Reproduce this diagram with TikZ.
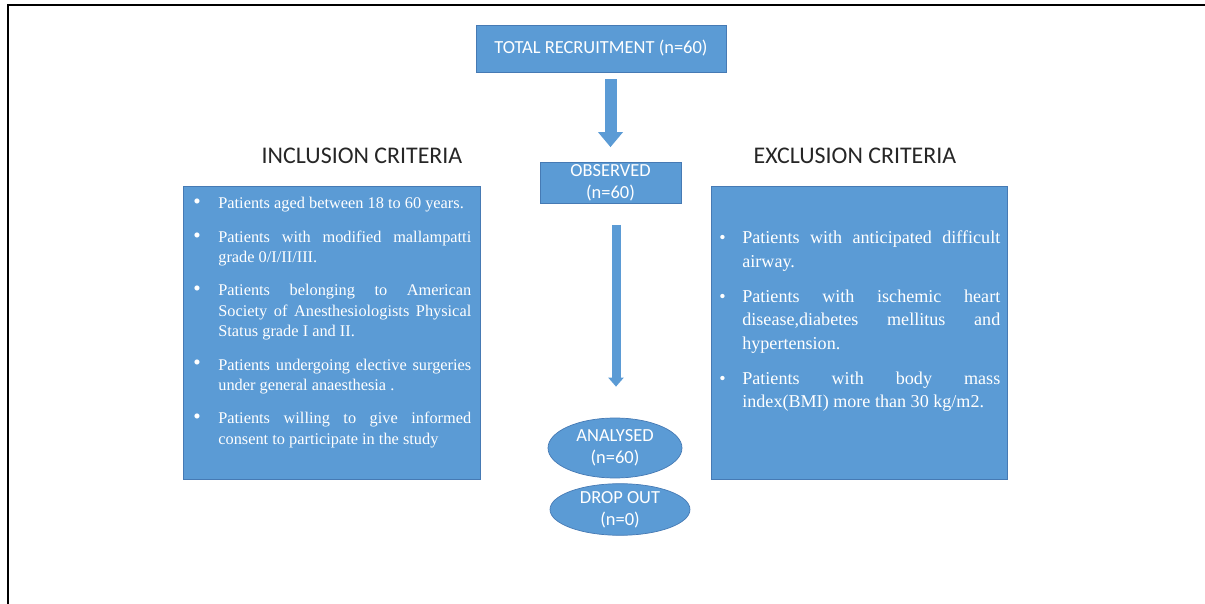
\documentclass[tikz,border=0pt]{standalone}
\usepackage{fontspec}
\setmainfont{Liberation Serif}
\newfontfamily\calib{Carlito}
\usetikzlibrary{shapes.geometric,arrows.meta,calc}

\definecolor{boxblue}{RGB}{91,155,213}
\definecolor{boxedge}{RGB}{70,122,180}

\newlength\critind
\newlength\critgap
\newcommand{\critbul}{\textbullet}
\newcommand{\critem}[1]{\par\hangindent=\critind\hangafter=1\noindent
  \hbox to\critind{\hskip0.06cm\critbul\hss}#1\par\vspace{\critgap}}

\tikzset{
  bluebox/.style={rectangle, fill=boxblue, draw=boxedge, line width=0.4pt,
    text=white, align=center, inner sep=0pt,
    font=\calib\fontsize{10.5}{12.5}\selectfont},
  blueoval/.style={bluebox, ellipse},
  critbox/.style={rectangle, fill=boxblue, draw=boxedge, line width=0.4pt},
  crittext/.style={anchor=north west, inner sep=0pt, text=white, align=justify},
  crithead/.style={text=black!85, font=\calib\fontsize{13.6}{16}\selectfont},
  bigarrow/.style={boxblue, line width=0.24cm, -{Triangle[width=0.48cm, length=0.3cm]}},
  thinarrow/.style={boxblue, line width=0.18cm, -{Triangle[width=0.3cm, length=0.18cm]}}
}

\begin{document}
\begin{tikzpicture}[x=0.02cm, y=-0.02cm]
\useasboundingbox (0,0) rectangle (1205,604);

% page frame
\draw[line width=1.7pt] (8,604) -- (8,5) -- (118,5);
\draw[line width=0.85pt] (118,4.8) -- (1098,4.8);
\draw[line width=1.7pt] (1098,5) -- (1205,5);

% centre column
\node[bluebox, minimum width=5cm, minimum height=0.94cm] (total) at (601,48.5) {TOTAL RECRUITMENT (n=60)};
\node[bluebox, minimum width=2.82cm, minimum height=0.82cm] (obs) at (610.5,183) {OBSERVED\\(n=60)};
\node[blueoval, minimum width=2.68cm, minimum height=1.2cm] (analysed) at (615,448) {ANALYSED\\(n=60)};
\node[blueoval, minimum width=2.8cm, minimum height=0.9cm] (dropout) at (620,509.5) {DROP OUT\\(n=0)};

\draw[bigarrow] ($(total.south -| obs.north)+(0,7)$) -- ($(obs.north)+(0,-15)$);
\draw[thinarrow] ($(obs.south -| analysed.north)+(1,21)$) -- ($(analysed.north)+(1,-31)$);

% inclusion side
\node[crithead] (inhead) at (362,156) {INCLUSION CRITERIA};
\node[critbox, minimum width=5.94cm, minimum height=5.86cm] (inbox) at (331.5,332.5) {};
\node[crittext, text width=5.62cm, font=\fontsize{9.3}{11.6}\selectfont] (inlist) at (190,188) {%
  \setlength\critind{0.56cm}\setlength\critgap{0.26cm}%
  \renewcommand\critbul{\scalebox{1.3}{\textbullet}}%
  \critem{Patients aged between 18 to 60 years.}
  \critem{Patients with modified mallampatti\linebreak grade 0/I/II/III.}
  \critem{Patients belonging to American\linebreak Society of Anesthesiologists Physical\linebreak Status grade I and II.}
  \critem{Patients undergoing elective surgeries\linebreak under general anaesthesia .}
  \critem{Patients willing to give informed\linebreak consent to participate in the study}};

% exclusion side
\node[crithead] (exhead) at (855,156) {EXCLUSION CRITERIA};
\node[critbox, minimum width=5.92cm, minimum height=5.86cm] (exbox) at (859,332.5) {};
\node[crittext, text width=5.68cm, font=\fontsize{10.3}{13.3}\selectfont] (exlist) at (716,220) {%
  \setlength\critind{0.52cm}\setlength\critgap{0.24cm}%
  \critem{Patients with anticipated difficult\linebreak airway.}
  \critem{Patients with ischemic heart\linebreak disease,diabetes mellitus and\linebreak hypertension.}
  \critem{Patients with body mass\linebreak index(BMI) more than 30 kg/m2.}};

\end{tikzpicture}
\end{document}
